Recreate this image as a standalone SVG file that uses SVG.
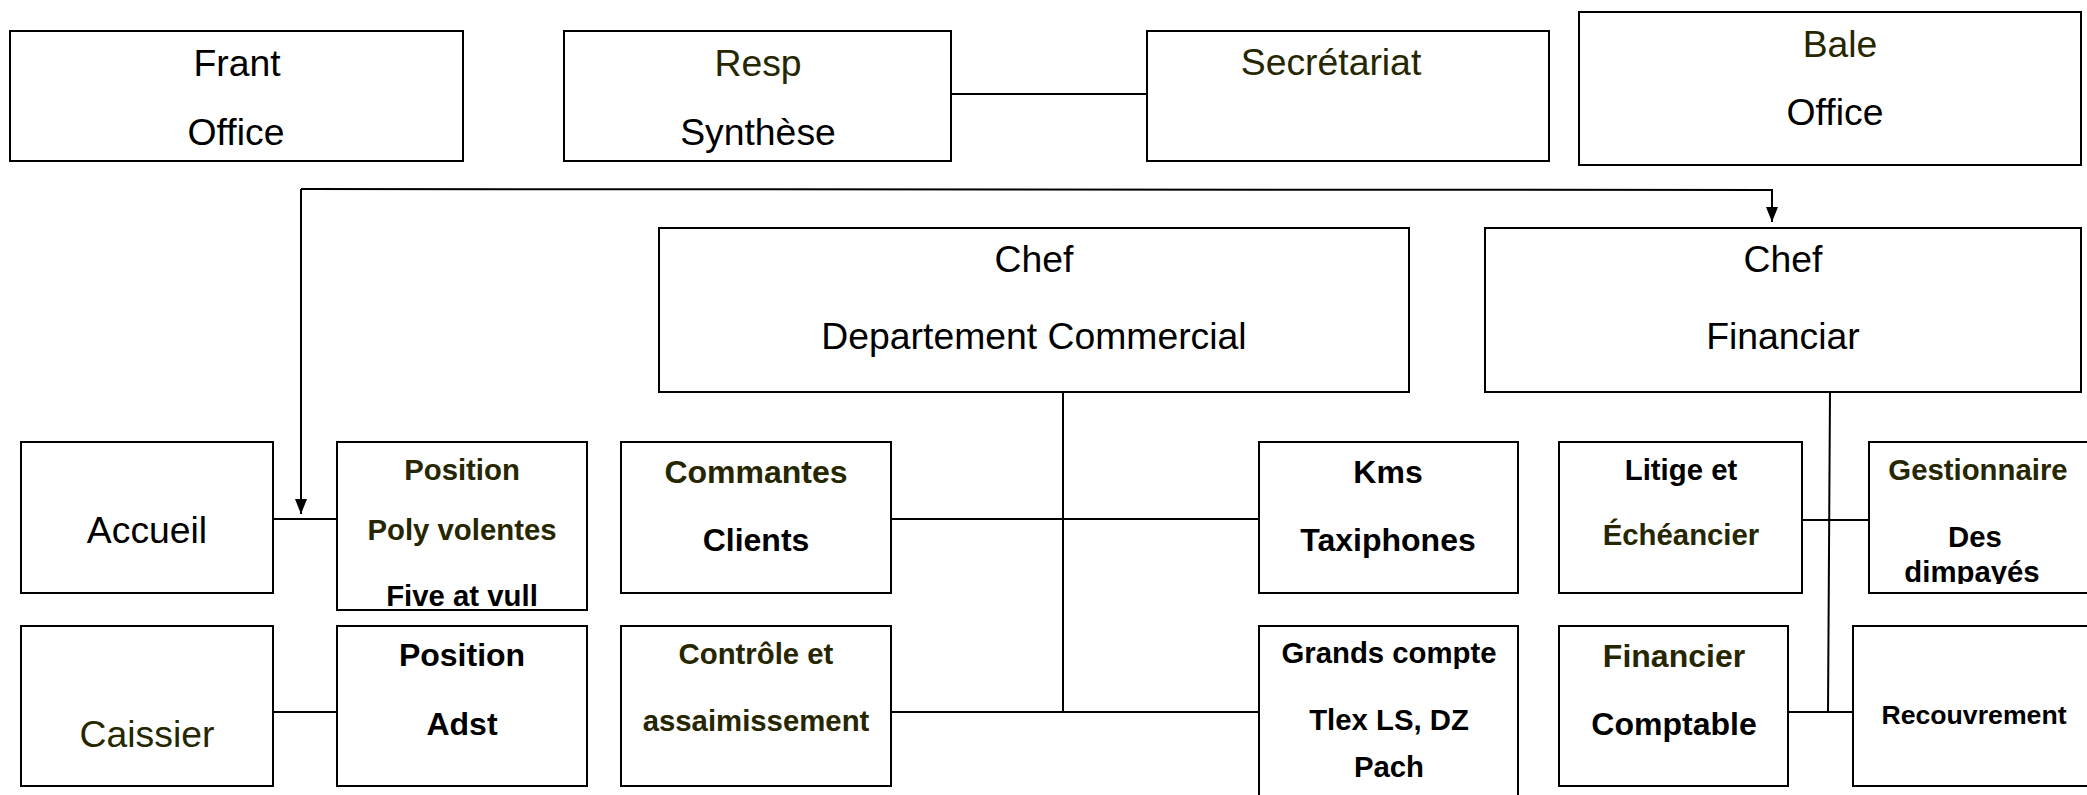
<svg xmlns="http://www.w3.org/2000/svg" width="2087" height="795" viewBox="0 0 2087 795">
<style>
.box{fill:#fff;stroke:#000;stroke-width:2}
.ln{fill:none;stroke:#000;stroke-width:2}
text{font-family:"Liberation Sans",Arial,sans-serif;text-anchor:middle;fill:#000}
.r{font-size:37.33px}
.b{font-size:29.33px;font-weight:bold}
.b2{font-size:32px;font-weight:bold}
.b3{font-size:26.67px;font-weight:bold}
.o{fill:#262600}
</style>
<defs>
<marker id="arr" viewBox="0 0 15 12" refX="15" refY="6" markerWidth="15" markerHeight="12" markerUnits="userSpaceOnUse" orient="auto">
<path d="M0,0 L15,6 L0,12 z" fill="#000"/>
</marker>
<clipPath id="cGest"><rect x="1869" y="442" width="230" height="142"/></clipPath>
<clipPath id="cPos"><rect x="337" y="442" width="250" height="167"/></clipPath>
</defs>
<rect width="2087" height="795" fill="#fff"/>
<g id="connectors">
<line class="ln" x1="951" y1="94" x2="1161" y2="94"/>
<polyline class="ln" points="301,189 1772,190 1772,222" marker-end="url(#arr)"/>
<line class="ln" x1="301" y1="189" x2="301" y2="514" marker-end="url(#arr)"/>
<line class="ln" x1="273" y1="519" x2="337" y2="519"/>
<line class="ln" x1="273" y1="712" x2="337" y2="712"/>
<line class="ln" x1="1063" y1="392" x2="1063" y2="712"/>
<line class="ln" x1="891" y1="519" x2="1259" y2="519"/>
<line class="ln" x1="891" y1="712" x2="1259" y2="712"/>
<line class="ln" x1="1830" y1="392" x2="1828" y2="712"/>
<line class="ln" x1="1802" y1="520" x2="1869" y2="520"/>
<line class="ln" x1="1788" y1="712" x2="1853" y2="712"/>
</g>
<g id="frant"><rect class="box" x="10" y="31" width="453" height="130"/><text class="r" x="237" y="76">Frant</text><text class="r" x="236" y="145">Office</text></g>
<g id="resp"><rect class="box" x="564" y="31" width="387" height="130"/><text class="r o" x="758" y="76">Resp</text><text class="r" x="758" y="145">Synthèse</text></g>
<g id="secretariat"><rect class="box" x="1147" y="31" width="402" height="130"/><text class="r o" x="1331" y="75">Secrétariat</text></g>
<g id="bale"><rect class="box" x="1579" y="12" width="502" height="153"/><text class="r o" x="1840" y="57">Bale</text><text class="r" x="1835" y="125">Office</text></g>
<g id="chefDept"><rect class="box" x="659" y="228" width="750" height="164"/><text class="r" x="1034" y="272">Chef</text><text class="r" x="1034" y="349">Departement Commercial</text></g>
<g id="chefFin"><rect class="box" x="1485" y="228" width="596" height="164"/><text class="r" x="1783" y="272">Chef</text><text class="r" x="1783" y="349">Financiar</text></g>
<g id="accueil"><rect class="box" x="21" y="442" width="252" height="151"/><text class="r" x="147" y="543">Accueil</text></g>
<g id="position1"><rect class="box" x="337" y="442" width="250" height="168"/><text class="b o" x="462" y="480">Position</text><text class="b o" x="462" y="540">Poly volentes</text><g clip-path="url(#cPos)"><text class="b" x="462" y="606">Five at vull</text></g></g>
<g id="caissier"><rect class="box" x="21" y="626" width="252" height="160"/><text class="r o" x="147" y="747">Caissier</text></g>
<g id="position2"><rect class="box" x="337" y="626" width="250" height="160"/><text class="b2" x="462" y="666">Position</text><text class="b2" x="462" y="735">Adst</text></g>
<g id="commantes"><rect class="box" x="621" y="442" width="270" height="151"/><text class="b2 o" x="756" y="483">Commantes</text><text class="b2" x="756" y="551">Clients</text></g>
<g id="controle"><rect class="box" x="621" y="626" width="270" height="160"/><text class="b o" x="756" y="664">Contrôle et</text><text class="b o" x="756" y="731">assaimissement</text></g>
<g id="kms"><rect class="box" x="1259" y="442" width="259" height="151"/><text class="b2" x="1388" y="483">Kms</text><text class="b2" x="1388" y="551">Taxiphones</text></g>
<g id="grands"><rect class="box" x="1259" y="626" width="259" height="180"/><text class="b" x="1389" y="663">Grands compte</text><text class="b" x="1389" y="730">Tlex LS, DZ</text><text class="b" x="1389" y="777">Pach</text></g>
<g id="litige"><rect class="box" x="1559" y="442" width="243" height="151"/><text class="b" x="1681" y="480">Litige et</text><text class="b o" x="1681" y="545">Échéancier</text></g>
<g id="gestionnaire"><rect class="box" x="1869" y="442" width="230" height="151"/><text class="b o" x="1978" y="480">Gestionnaire</text><text class="b" x="1975" y="547">Des</text><g clip-path="url(#cGest)"><text class="b" x="1972" y="582">dimpayés</text></g></g>
<g id="financier"><rect class="box" x="1559" y="626" width="229" height="160"/><text class="b2 o" x="1674" y="667">Financier</text><text class="b2" x="1674" y="735">Comptable</text></g>
<g id="recouvrement"><rect class="box" x="1853" y="626" width="247" height="160"/><text class="b3" x="1974" y="724">Recouvrement</text></g>
</svg>
